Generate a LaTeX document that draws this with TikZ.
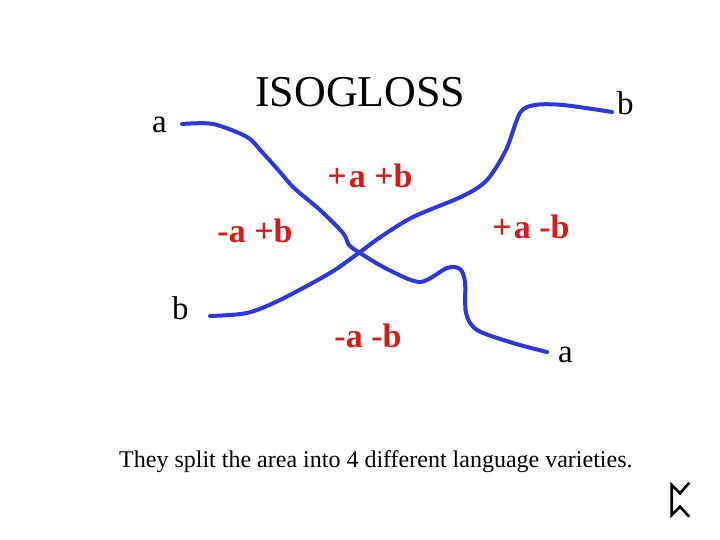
\documentclass[tikz,border=0pt]{standalone}
\usepackage{fontspec}
\setmainfont{Liberation Serif}
\definecolor{isoblue}{RGB}{45,55,225}
\definecolor{lblred}{RGB}{220,25,25}
\begin{document}
\begin{tikzpicture}[x=1pt,y=-1pt,
  iso/.style={isoblue,line width=4pt,line cap=round,line join=round},
  blk/.style={inner sep=0pt,anchor=base west,text=black},
  region/.style={inner sep=0pt,anchor=base,text=lblred,font=\fontsize{34}{34}\selectfont\bfseries},
  rune/.style={black,line width=2.6pt}]
\useasboundingbox (0,0) rectangle (720,540);
\fill[white] (0,0) rectangle (720,540);
% title
\node[blk,font=\fontsize{44}{44}\selectfont] (title) at (255,107) {ISOGLOSS};
% end labels
\node[blk,font=\fontsize{33}{33}\selectfont] (la1) at (152,133) {a};
\node[blk,font=\fontsize{33}{33}\selectfont] (lb1) at (617,115) {b};
\node[blk,font=\fontsize{33}{33}\selectfont] (lb2) at (172,319) {b};
\node[blk,font=\fontsize{33}{33}\selectfont] (la2) at (558,362) {a};
% region labels
\node[region] (pp) at (370,188) {+\kern2pt a +b};
\node[region] (mp) at (255,243) {-a +b};
\node[region] (pm) at (531,238) {+\kern2pt a -b};
\node[region] (mm) at (368,347) {-a -b};
% isogloss endpoints
\coordinate (a1) at (182,124);
\coordinate (a2) at (547,352);
\coordinate (b1) at (210,316);
\coordinate (b2) at (612,112);
% isogloss a
\draw[iso] plot[smooth,tension=0.5] coordinates {(a1) (213,124) (247,137) (262,152) (280,172) (294,188) (320,210) (343,233) (349,245) (360,253) (387,269) (420,282) (447,268) (460,269) (465,282) (466,313) (477,330) (513,343) (a2)};
% isogloss b
\draw[iso] plot[smooth,tension=0.5] coordinates {(b1) (247,313) (280,300) (330,273) (360,252) (382,236) (413,217) (463,196) (487,180) (506,150) (520,113) (535,105) (563,105) (b2)};
% caption
\node[blk,font=\fontsize{24}{24}\selectfont] (cap) at (119,467) {They split the area into 4 different language varieties.};
% rune logo
\coordinate (r1) at (689.3,482.7);
\coordinate (r2) at (680,493.3);
\coordinate (r3) at (671.7,485);
\coordinate (r4) at (671.7,515);
\coordinate (r5) at (680,506.7);
\coordinate (r6) at (689.3,516.7);
\draw[rune] (r1) -- (r2) -- (r3) -- (r4) -- (r5) -- (r6);
\end{tikzpicture}
\end{document}
